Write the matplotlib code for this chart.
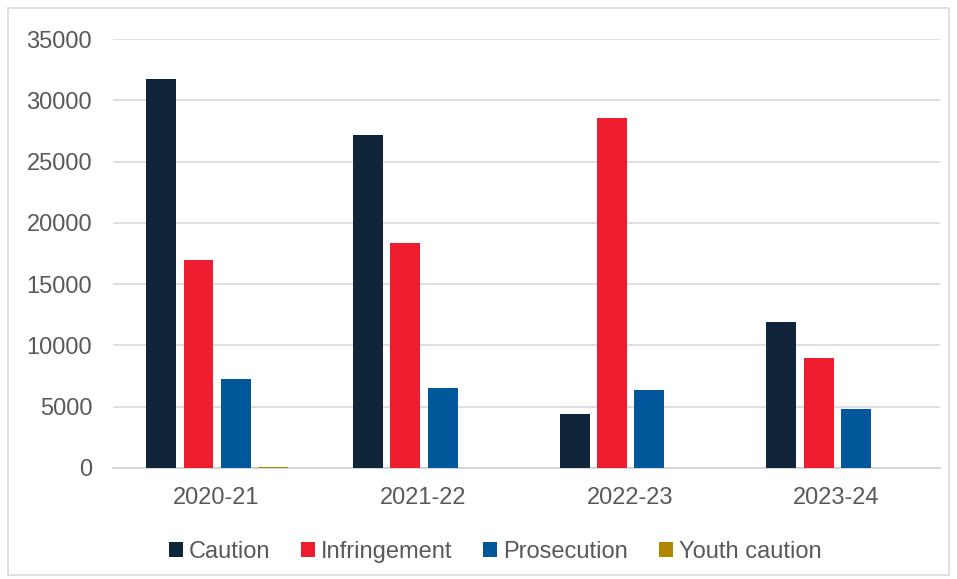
import matplotlib
matplotlib.use("Agg")
import matplotlib.pyplot as plt
import numpy as np
from matplotlib.patches import Rectangle

categories = ["2020-21", "2021-22", "2022-23", "2023-24"]
series_names = ["Caution", "Infringement", "Prosecution", "Youth caution"]
caution = [31700, 27200, 4400, 11900]
infringement = [16950, 18350, 28550, 8950]
prosecution = [7300, 6500, 6400, 4800]
youth_caution = [80, 10, 10, 10]
colors = ["#10253a", "#ed1c2e", "#00589b", "#b38600"]
yticks = [0, 5000, 10000, 15000, 20000, 25000, 30000, 35000]

plt.rcParams['font.family'] = ['Liberation Sans', 'DejaVu Sans']

fig = plt.figure(figsize=(9.57, 5.79), dpi=100)
ax = fig.add_axes([113/957, 1 - 468/579, (940-113)/957, (468-39)/579])

x = np.arange(len(categories))
width = 0.145
step = 0.181
data = [caution, infringement, prosecution, youth_caution]
for i, (vals, name, c) in enumerate(zip(data, series_names, colors)):
    ax.bar(x + (i - 1.5) * step + 0.004, vals, width, color=c, label=name, zorder=3)

ax.set_xlim(-0.5, len(categories) - 0.5)
ax.set_ylim(0, 35000)
ax.set_yticks(yticks)
ax.set_yticklabels([str(v) for v in yticks])
ax.set_xticks(x)
ax.set_xticklabels(categories)
ax.yaxis.grid(True, color="#d9d9d9", linewidth=1.2, zorder=0)
ax.set_axisbelow(True)
for s in ["top", "right", "left"]:
    ax.spines[s].set_visible(False)
ax.spines["bottom"].set_color("#d0d0d0")
ax.spines["bottom"].set_linewidth(1.2)
ax.tick_params(axis="both", length=0, labelsize=17, labelcolor="#595959")
ax.tick_params(axis="y", pad=15)
ax.tick_params(axis="x", pad=14)

leg = ax.legend(loc="upper center", bbox_to_anchor=(0.462, -0.12), ncol=4, frameon=False,
                fontsize=17, handlelength=0.6, handleheight=0.6, handletextpad=0.25,
                columnspacing=1.3, labelcolor="#595959")

fig.patches.append(Rectangle((8/957, 1 - 575/579), (949-8)/957, (575-8)/579,
                             transform=fig.transFigure, fill=False,
                             edgecolor="#d9d9d9", linewidth=1.2))

fig.savefig("out.png", dpi=100)
